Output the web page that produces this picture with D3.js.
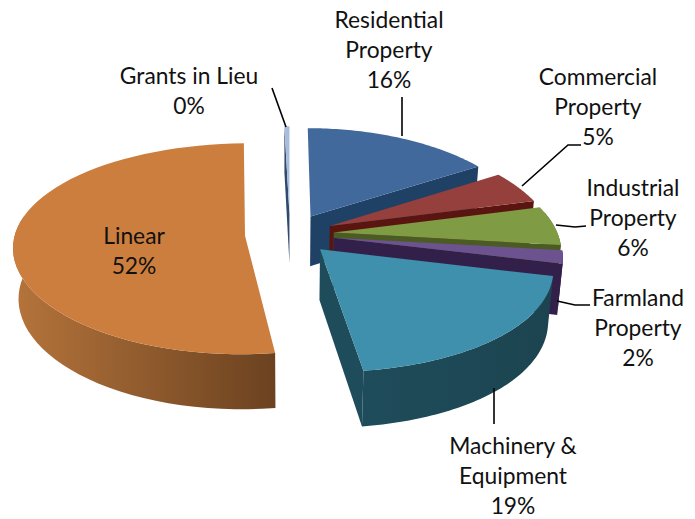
<!DOCTYPE html>
<html>
<head>
<meta charset="utf-8">
<script src="https://cdn.jsdelivr.net/npm/d3@7"></script>
<style>
  html, body { margin: 0; padding: 0; background: #fff; }
  text { font-family: Lato, sans-serif; font-size: 22.8px; fill: #111; text-anchor: middle; }
</style>
</head>
<body>
<div id="chart"></div>
<script>
// Chart values, clockwise from twelve o'clock.
const categories = ['Residential Property', 'Commercial Property', 'Industrial Property', 'Farmland Property', 'Machinery & Equipment', 'Linear', 'Grants in Lieu']
const values = [16, 5, 6, 2, 19, 52, 0.4]

// Slice colours: top face, then wall gradient left and right.
const topColors = ['#42699c', '#95403c', '#7f9c45', '#6d5290', '#3f90ac', '#cc7e3e', '#a8bedc']
const wallLeft = ['#1f4166', '#5a1511', '#4a5c24', '#33204a', '#1f4c5b', '#b5743b', '#2f4a6e']
const wallRight = ['#1f4166', '#5a1511', '#4a5c24', '#33204a', '#1c4450', '#6b4220', '#2f4a6e']

// Label layout.
const labelLines = [['Residential', 'Property'], ['Commercial', 'Property'], ['Industrial', 'Property'], ['Farmland', 'Property'], ['Machinery &', 'Equipment'], ['Linear'], ['Grants in Lieu']]
const labelX = [389, 598, 633, 638, 513, 134, 189]
const labelY = [28, 85, 196, 306, 454, 244, 84]
const leaders = [
  [[402, 97], [402, 136]],
  [[581, 145], [568, 145], [522, 186]],
  [[556, 225], [575, 227], [586, 226]],
  [[557, 301], [575, 305], [590, 305]],
  [[494, 388], [494, 424]],
  [],
  [[272, 88], [286, 127]]
]

const width = 695,
    height = 519

// Pie geometry, in screen pixels and unit-radius world coordinates.
const centerX = 290,
    centerY = 234,
    explode = 0.196,
    depth = 50

const xScale = d3.scaleLinear().domain([-1, 0, 1]).range([-230, 0, 224])
const yScale = d3.scaleLinear().domain([-1, 1]).range([103.4, -103.4])

// Perspective: points further back shrink, lower points pull in a little.
function project(wx, wy, z) {
  const px = 1 + (wx < 0 ? 0.1 : 0.16) * wy
  const py = 1 + 0.124 * wy
  const sx = xScale(wx) / px
  return [
    centerX + sx * (1 - 0.02 * z),
    centerY + yScale(wy) / py + z * depth * (1 + 0.1 * (wy < 0 ? -wy : -wy * 0.5))
  ]
}

const svg = d3.select('#chart')
  .append('svg')
    .attr('width', width)
    .attr('height', height)

const defs = svg.append('defs')
const line = d3.line()

const total = d3.sum(values)
const arcs = d3.pie().sort(null).startAngle(0).endAngle(2 * Math.PI)(values)

// Painted back to front.
const order = [6, 0, 1, 2, 3, 4, 5]

order.forEach(function(i) {
  const a = arcs[i]
  const mid = (a.startAngle + a.endAngle) / 2
  const ox = explode * Math.sin(mid)
  const oy = explode * Math.cos(mid)

  const steps = d3.range(0, 61).map(function(k) {
    return a.startAngle + (a.endAngle - a.startAngle) * k / 60
  })
  const rim = function(angles, z) {
    return angles.map(function(t) {
      return project(ox + Math.sin(t), oy + Math.cos(t), z)
    })
  }

  const apexTop = project(ox, oy, 0)
  const apexBottom = project(ox, oy, 1)
  const rimTop = rim(steps, 0)
  const rimBottom = rim(steps, 1)
  const g = svg.append('g')

  // Cut faces, only the ones turned towards the viewer.
  if (Math.sin(a.startAngle) < 0) {
    g.append('path')
      .attr('d', line([apexTop, rimTop[0], rimBottom[0], apexBottom]) + 'Z')
      .attr('fill', wallRight[i])
  }
  if (Math.sin(a.endAngle) > 0.001) {
    g.append('path')
      .attr('d', line([apexTop, rimTop[60], rimBottom[60], apexBottom]) + 'Z')
      .attr('fill', wallLeft[i])
  }

  // Outer wall with a horizontal gradient, front part of the rim only.
  const front = steps.filter(function(t) { return Math.cos(t) < 0.2 })
  if (front.length > 1) {
    const wallTop = rim(front, 0)
    const wallBottom = rim(front, 1)
    const xExtent = d3.extent(wallTop, function(d) { return d[0] })
    const gradient = defs.append('linearGradient')
      .attr('id', 'wall' + i)
      .attr('gradientUnits', 'userSpaceOnUse')
      .attr('x1', xExtent[0])
      .attr('x2', xExtent[1])
      .attr('y1', 0)
      .attr('y2', 0)
    gradient.append('stop').attr('offset', 0).attr('stop-color', wallLeft[i])
    gradient.append('stop').attr('offset', 1).attr('stop-color', wallRight[i])

    g.append('path')
      .attr('d', line(wallTop.concat(wallBottom.reverse())) + 'Z')
      .attr('fill', 'url(#wall' + i + ')')
  }

  // Top face.
  g.append('path')
    .attr('d', line([apexTop].concat(rimTop)) + 'Z')
    .attr('fill', topColors[i])
})

// Leader lines.
svg.selectAll('.leader')
  .data(leaders.filter(function(d) { return d.length > 0 }))
  .enter()
  .append('path')
    .attr('class', 'leader')
    .attr('d', line)
    .attr('fill', 'none')
    .attr('stroke', '#000')
    .attr('stroke-width', 1.6)

// Labels.
const percent = d3.format('.0%')
categories.forEach(function(name, i) {
  const rows = labelLines[i].concat(percent(values[i] / total))
  const label = svg.append('text')
    .attr('aria-label', name)
    .attr('x', labelX[i])
    .attr('y', labelY[i])
  rows.forEach(function(row, j) {
    label.append('tspan')
      .attr('x', labelX[i])
      .attr('dy', j === 0 ? 0 : 30)
      .text(row)
  })
})
</script>
</body>
</html>
